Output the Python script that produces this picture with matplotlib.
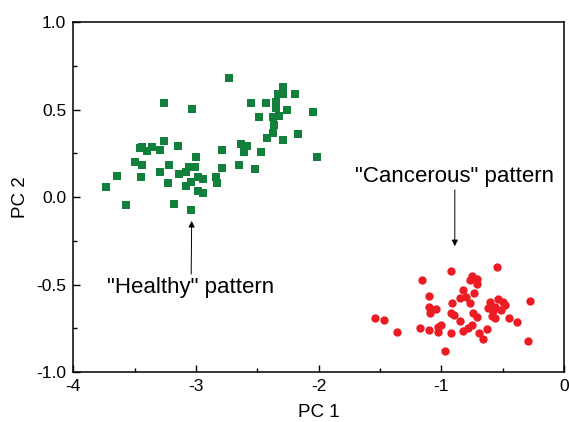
import matplotlib
matplotlib.use('Agg')
import matplotlib.pyplot as plt
from matplotlib.ticker import MultipleLocator

plt.rcParams['font.family'] = ['Liberation Sans', 'DejaVu Sans']

# healthy samples (green squares)
healthy_pc1 = [-2.73, -2.29, -2.33, -2.29, -2.19, -3.26, -2.55, -2.43, -2.35, -3.03,
               -2.35, -2.26, -2.05, -2.49, -2.37, -2.32, -2.36, -2.37, -2.42, -2.29,
               -2.17, -2.01, -3.26, -3.15, -3.46, -3.44, -3.36, -3.40, -3.29, -2.79,
               -2.63, -2.58, -2.61, -2.47, -3.00, -3.50, -3.44, -3.22, -3.29, -3.06,
               -3.01, -2.79, -2.65, -2.52, -3.64, -3.45, -3.14, -3.08, -2.98, -2.94,
               -2.84, -2.83, -3.23, -3.04, -3.08, -3.73, -2.98, -2.94, -3.57, -3.18,
               -3.04]
healthy_pc2 = [0.678, 0.627, 0.589, 0.589, 0.589, 0.537, 0.535, 0.537, 0.541, 0.503,
               0.507, 0.497, 0.487, 0.455, 0.455, 0.463, 0.413, 0.366, 0.339, 0.326,
               0.358, 0.227, 0.322, 0.290, 0.280, 0.286, 0.284, 0.265, 0.269, 0.269,
               0.301, 0.291, 0.259, 0.257, 0.230, 0.198, 0.183, 0.185, 0.143, 0.170,
               0.173, 0.167, 0.181, 0.160, 0.120, 0.116, 0.130, 0.141, 0.114, 0.103,
               0.113, 0.082, 0.080, 0.084, 0.063, 0.059, 0.034, 0.025, -0.046, -0.040,
               -0.076]

# cancerous samples (red circles)
cancer_pc1 = [-0.92, -0.55, -1.16, -0.75, -0.77, -0.71, -0.71, -0.82, -0.73, -1.10,
              -0.85, -0.80, -0.91, -0.77, -0.60, -0.54, -0.48, -0.28, -0.62, -0.56,
              -0.51, -1.10, -1.04, -1.09, -0.92, -0.74, -0.71, -0.59, -0.56, -0.45,
              -0.38, -1.54, -1.47, -0.85, -0.75, -0.78, -0.82, -0.92, -0.63, -0.69,
              -0.66, -0.29, -1.17, -1.10, -1.03, -1.00, -1.03, -1.36, -0.97, -0.58,
              -0.50, -0.90]
cancer_pc2 = [-0.420, -0.401, -0.471, -0.448, -0.473, -0.469, -0.496, -0.532, -0.549, -0.564,
              -0.577, -0.572, -0.602, -0.606, -0.597, -0.583, -0.615, -0.593, -0.634, -0.625,
              -0.644, -0.629, -0.638, -0.661, -0.659, -0.663, -0.686, -0.678, -0.691, -0.688,
              -0.711, -0.691, -0.703, -0.705, -0.730, -0.749, -0.762, -0.774, -0.754, -0.774,
              -0.810, -0.819, -0.745, -0.756, -0.741, -0.730, -0.771, -0.768, -0.878, -0.650,
              -0.598, -0.675]

x_ticks = [-4, -3, -2, -1, 0]
x_labels = ['-4', '-3', '-2', '-1', '0']
y_ticks = [-1.0, -0.5, 0.0, 0.5, 1.0]
y_labels = ['-1.0', '-0.5', '0.0', '0.5', '1.0']

fig = plt.figure(figsize=(5.69, 4.22), dpi=100)
ax = fig.add_axes([0.1288, 0.1178, 0.8624, 0.8302])

ax.plot(healthy_pc1, healthy_pc2, 's', color='#10803c', markersize=5.5, markeredgewidth=0)
ax.plot(cancer_pc1, cancer_pc2, 'o', color='#ed1c24', markersize=6, markeredgewidth=0)

ax.annotate('"Cancerous" pattern', xy=(-0.89, -0.28), xytext=(-0.89, 0.057),
            ha='center', va='bottom', fontsize=16,
            arrowprops=dict(arrowstyle='-|>', color='black', lw=0.7, mutation_scale=9,
                            shrinkA=0, shrinkB=0))
ax.annotate('"Healthy" pattern', xy=(-3.035, -0.136), xytext=(-3.04, -0.456),
            ha='center', va='top', fontsize=16,
            arrowprops=dict(arrowstyle='-|>', color='black', lw=0.7, mutation_scale=9,
                            shrinkA=0, shrinkB=0))

ax.set_xticks(x_ticks)
ax.set_xticklabels(x_labels)
ax.set_yticks(y_ticks)
ax.set_yticklabels(y_labels)
ax.xaxis.set_minor_locator(MultipleLocator(0.5))
ax.yaxis.set_minor_locator(MultipleLocator(0.25))
ax.set_xlim(-4, 0)
ax.set_ylim(-1.0, 1.0)
ax.tick_params(which='both', direction='in', top=False, right=False, labelsize=12.5)
ax.tick_params(which='major', length=5, width=1)
ax.tick_params(which='minor', length=3, width=1)
ax.tick_params(axis='y', pad=5)
ax.tick_params(axis='x', pad=5)
for s in ax.spines.values():
    s.set_linewidth(1.1)

ax.set_xlabel('PC 1', fontsize=13.5, labelpad=7)
ax.set_ylabel('PC 2', fontsize=13.5, labelpad=5)

fig.savefig('out.png', dpi=100)
